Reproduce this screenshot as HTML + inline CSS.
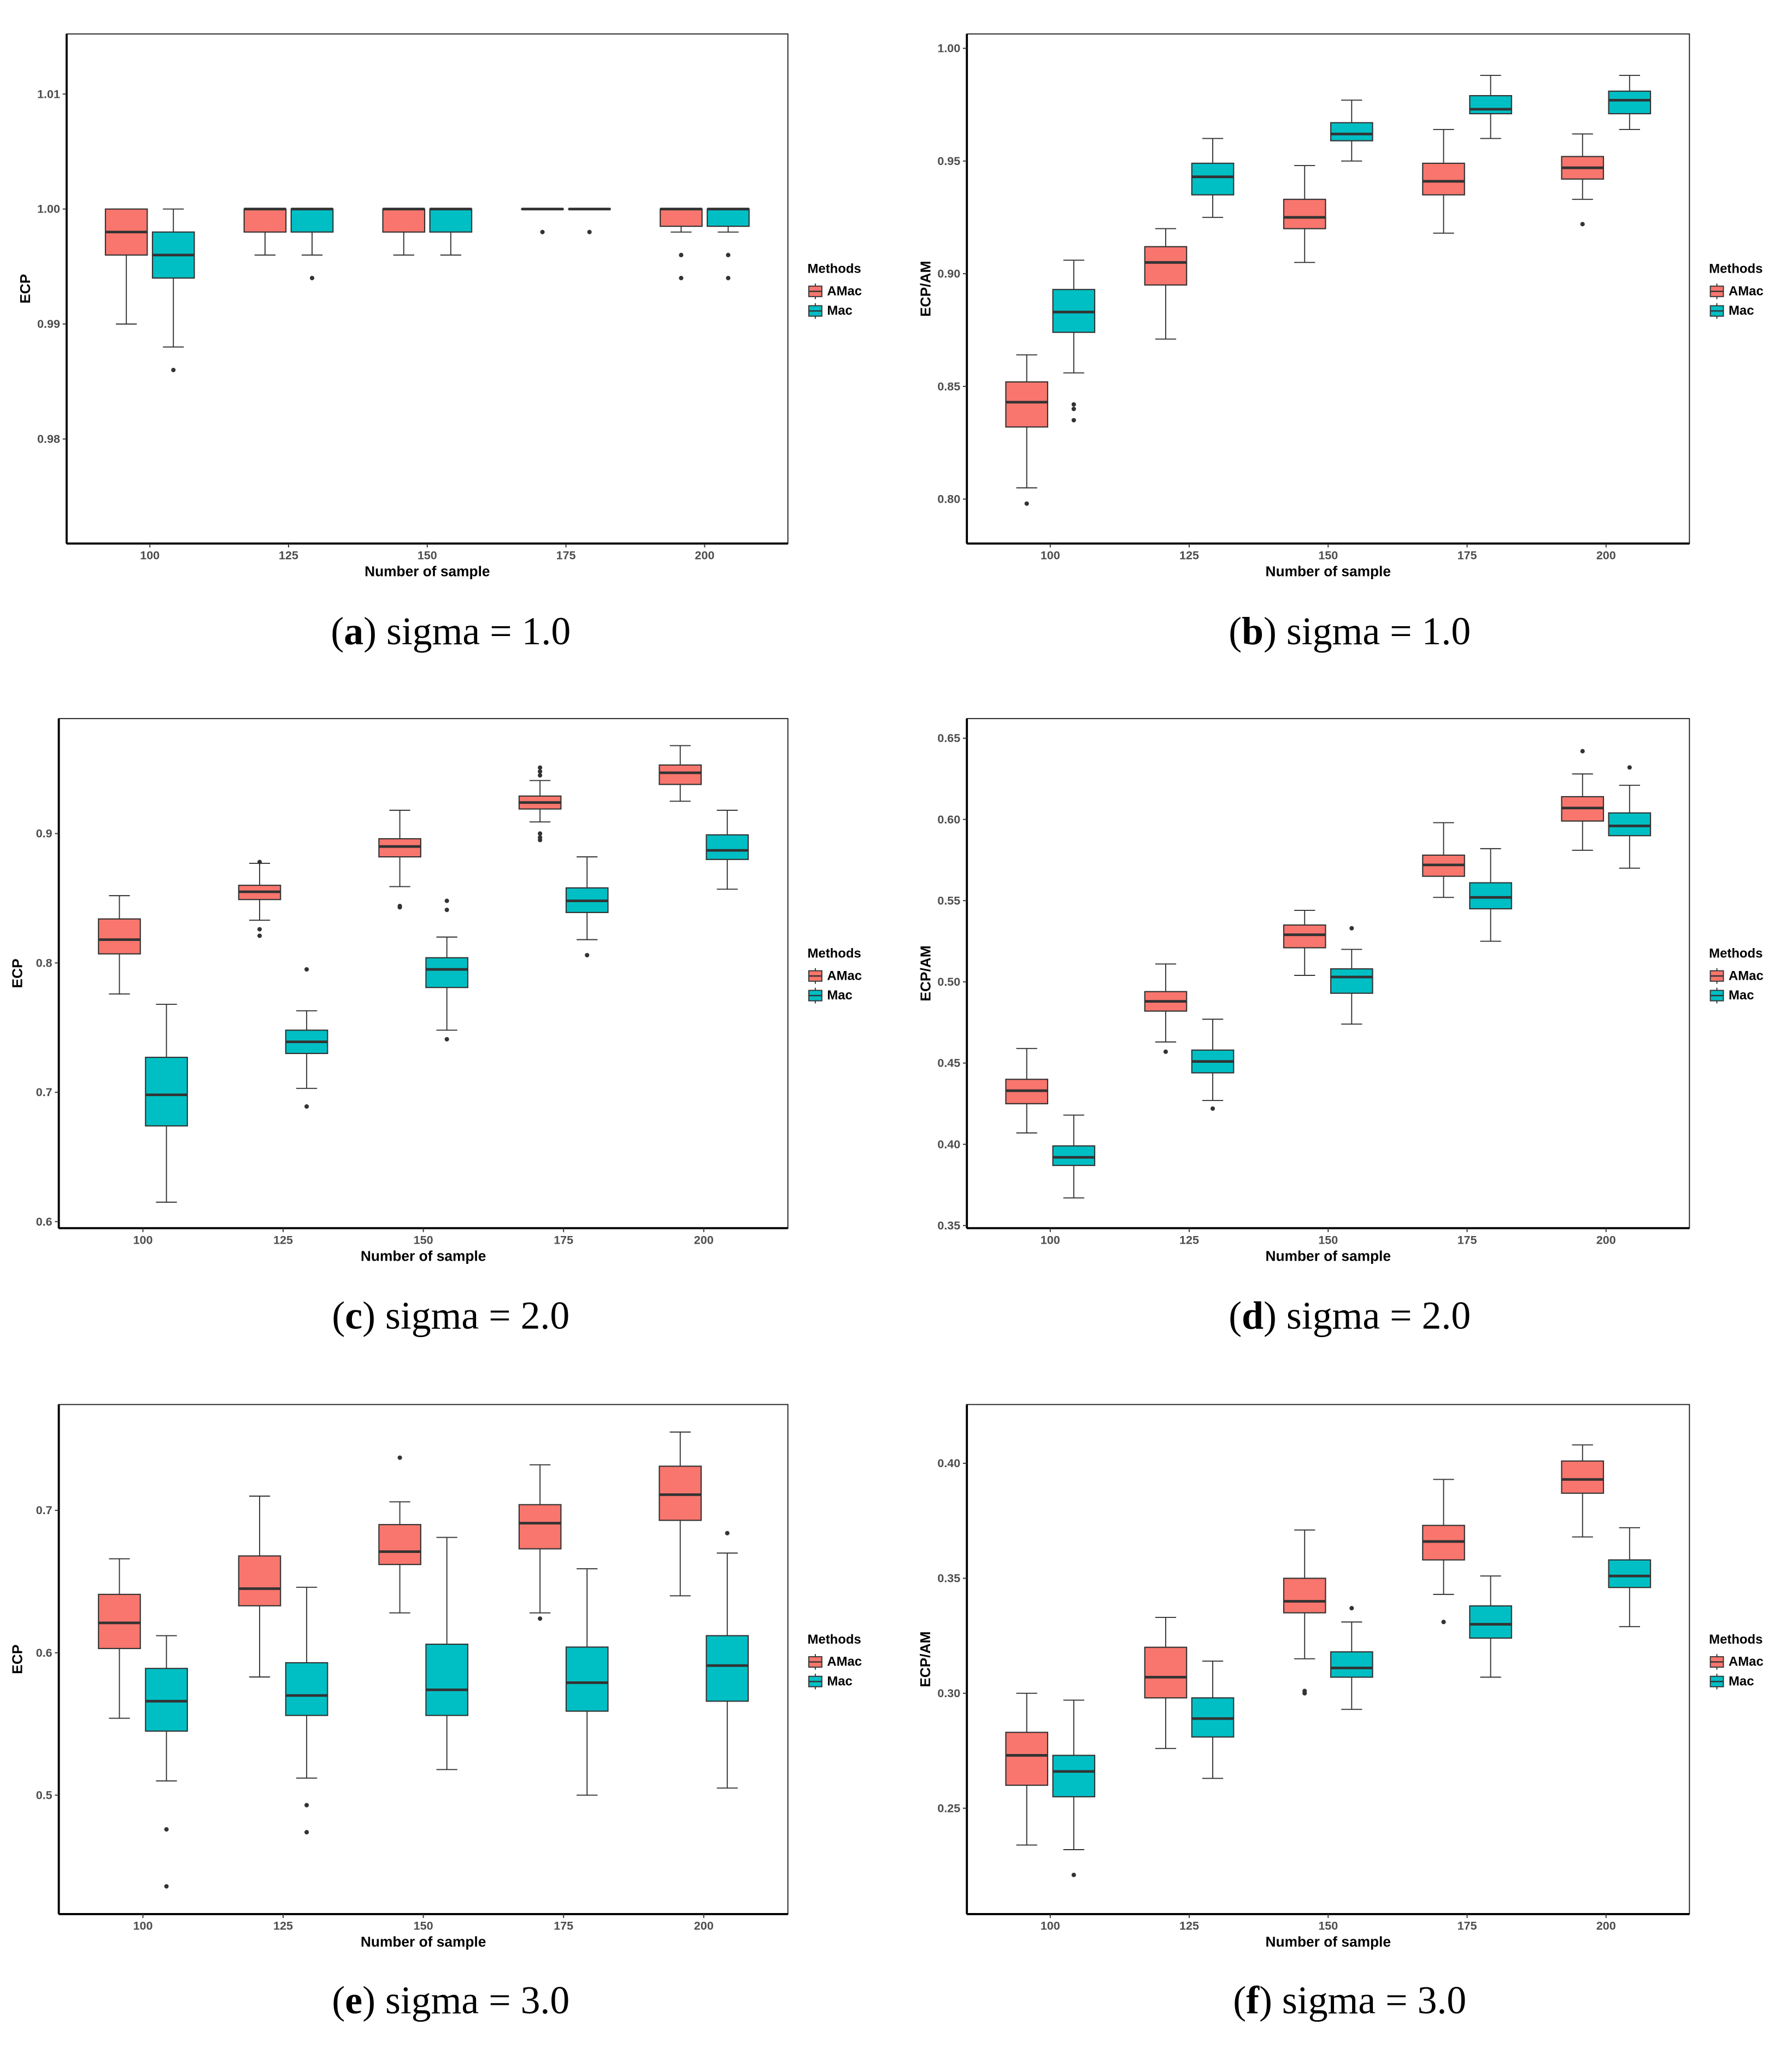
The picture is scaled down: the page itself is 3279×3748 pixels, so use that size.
<!DOCTYPE html>
<html><head><meta charset="utf-8"><style>
html,body{margin:0;padding:0;background:#fff;}
svg{display:block;}
.tick{font-family:"Liberation Sans",sans-serif;font-size:9px;font-weight:bold;fill:#4d4d4d;}
.atitle{font-family:"Liberation Sans",sans-serif;font-size:11px;font-weight:bold;fill:#000;}
.leg{font-family:"Liberation Sans",sans-serif;font-size:10px;font-weight:bold;fill:#000;}
.cap{font-family:"Liberation Serif",serif;font-size:30px;fill:#000;}
</style></head><body>
<svg id="fig" width="3279" height="3748" viewBox="0 0 1371.5 1567.5" preserveAspectRatio="none" xmlns="http://www.w3.org/2000/svg"></svg>
<script>
const categories = [100,125,150,175,200];
// each box: [lowerWhisker, q1, median, q3, upperWhisker]
const aAMac = [[0.990,0.996,0.998,1.000,1.000],[0.996,0.998,1.000,1.000,1.000],[0.996,0.998,1.000,1.000,1.000],[1,1,1,1,1],[0.998,0.9985,1.000,1.000,1.000]];
const aMac  = [[0.988,0.994,0.996,0.998,1.000],[0.996,0.998,1.000,1.000,1.000],[0.996,0.998,1.000,1.000,1.000],[1,1,1,1,1],[0.998,0.9985,1.000,1.000,1.000]];
const aAMacOut = [[],[],[],[0.998],[0.996,0.994]];
const aMacOut  = [[0.986],[0.994],[],[0.998],[0.996,0.994]];
const aTicks = [0.98,0.99,1.00,1.01];

const bAMac = [[0.805,0.832,0.843,0.852,0.864],[0.871,0.895,0.905,0.912,0.920],[0.905,0.920,0.925,0.933,0.948],[0.918,0.935,0.941,0.949,0.964],[0.933,0.942,0.947,0.952,0.962]];
const bMac  = [[0.856,0.874,0.883,0.893,0.906],[0.925,0.935,0.943,0.949,0.960],[0.950,0.959,0.962,0.967,0.977],[0.960,0.971,0.973,0.979,0.988],[0.964,0.971,0.977,0.981,0.988]];
const bAMacOut = [[0.798],[],[],[],[0.922]];
const bMacOut  = [[0.842,0.840,0.835],[],[],[],[]];
const bTicks = [0.80,0.85,0.90,0.95,1.00];

const cAMac = [[0.776,0.807,0.818,0.834,0.852],[0.833,0.849,0.855,0.860,0.877],[0.859,0.882,0.890,0.896,0.918],[0.909,0.919,0.924,0.929,0.941],[0.925,0.938,0.947,0.953,0.968]];
const cMac  = [[0.615,0.674,0.698,0.727,0.768],[0.703,0.730,0.739,0.748,0.763],[0.748,0.781,0.795,0.804,0.820],[0.818,0.839,0.848,0.858,0.882],[0.857,0.880,0.887,0.899,0.918]];
const cAMacOut = [[],[0.878,0.826,0.821],[0.844,0.843],[0.951,0.948,0.945,0.900,0.897,0.895],[]];
const cMacOut  = [[],[0.795,0.689],[0.848,0.841,0.741],[0.806],[]];
const cTicks = [0.6,0.7,0.8,0.9];

const dAMac = [[0.407,0.425,0.433,0.440,0.459],[0.463,0.482,0.488,0.494,0.511],[0.504,0.521,0.529,0.535,0.544],[0.552,0.565,0.572,0.578,0.598],[0.581,0.599,0.607,0.614,0.628]];
const dMac  = [[0.367,0.387,0.392,0.399,0.418],[0.427,0.444,0.451,0.458,0.477],[0.474,0.493,0.503,0.508,0.520],[0.525,0.545,0.552,0.561,0.582],[0.570,0.590,0.596,0.604,0.621]];
const dAMacOut = [[],[0.457],[],[],[0.642]];
const dMacOut  = [[],[0.422],[0.533],[],[0.632]];
const dTicks = [0.35,0.40,0.45,0.50,0.55,0.60,0.65];

const eAMac = [[0.554,0.603,0.621,0.641,0.666],[0.583,0.633,0.645,0.668,0.710],[0.628,0.662,0.671,0.690,0.706],[0.628,0.673,0.691,0.704,0.732],[0.640,0.693,0.711,0.731,0.755]];
const eMac  = [[0.510,0.545,0.566,0.589,0.612],[0.512,0.556,0.570,0.593,0.646],[0.518,0.556,0.574,0.606,0.681],[0.500,0.559,0.579,0.604,0.659],[0.505,0.566,0.591,0.612,0.670]];
const eAMacOut = [[],[],[0.737],[0.624],[]];
const eMacOut  = [[0.476,0.436],[0.493,0.474],[],[],[0.684]];
const eTicks = [0.5,0.6,0.7];

const fAMac = [[0.234,0.260,0.273,0.283,0.300],[0.276,0.298,0.307,0.320,0.333],[0.315,0.335,0.340,0.350,0.371],[0.343,0.358,0.366,0.373,0.393],[0.368,0.387,0.393,0.401,0.408]];
const fMac  = [[0.232,0.255,0.266,0.273,0.297],[0.263,0.281,0.289,0.298,0.314],[0.293,0.307,0.311,0.318,0.331],[0.307,0.324,0.330,0.338,0.351],[0.329,0.346,0.351,0.358,0.372]];
const fAMacOut = [[],[],[0.301,0.300],[0.331],[]];
const fMacOut  = [[0.221],[],[0.337],[],[]];
const fTicks = [0.25,0.30,0.35,0.40];

const panels = [
 {id:'a',x0:51,x1:603,y0:26,y1:416,v0:1.00,p0:160,v1:0.99,p1:248,dec:2,amac:aAMac,mac:aMac,ao:aAMacOut,mo:aMacOut,ticks:aTicks,yl:'ECP',cap:'sigma = 1.0',capY:485,capX:345},
 {id:'b',x0:740,x1:1293,y0:26,y1:416,v0:1.00,p0:37,v1:0.80,p1:382,dec:2,amac:bAMac,mac:bMac,ao:bAMacOut,mo:bMacOut,ticks:bTicks,yl:'ECP/AM',cap:'sigma = 1.0',capY:485,capX:1033},
 {id:'c',x0:45,x1:603,y0:550,y1:940,v0:0.9,p0:638,v1:0.6,p1:935,dec:1,amac:cAMac,mac:cMac,ao:cAMacOut,mo:cMacOut,ticks:cTicks,yl:'ECP',cap:'sigma = 2.0',capY:1009,capX:345},
 {id:'d',x0:740,x1:1293,y0:550,y1:940,v0:0.65,p0:565,v1:0.35,p1:938,dec:2,amac:dAMac,mac:dMac,ao:dAMacOut,mo:dMacOut,ticks:dTicks,yl:'ECP/AM',cap:'sigma = 2.0',capY:1009,capX:1033},
 {id:'e',x0:45,x1:603,y0:1075,y1:1465,v0:0.7,p0:1156,v1:0.5,p1:1374,dec:1,amac:eAMac,mac:eMac,ao:eAMacOut,mo:eMacOut,ticks:eTicks,yl:'ECP',cap:'sigma = 3.0',capY:1533,capX:345},
 {id:'f',x0:740,x1:1293,y0:1075,y1:1465,v0:0.40,p0:1120,v1:0.25,p1:1384,dec:2,amac:fAMac,mac:fMac,ao:fAMacOut,mo:fMacOut,ticks:fTicks,yl:'ECP/AM',cap:'sigma = 3.0',capY:1533,capX:1033}
];
const NS='http://www.w3.org/2000/svg';
const svg=document.getElementById('fig');
function el(tag,attrs,parent){const e=document.createElementNS(NS,tag);for(const k in attrs)e.setAttribute(k,attrs[k]);(parent||svg).appendChild(e);return e;}
const COLS={AMac:'#F8766D',Mac:'#00BFC4'};
panels.forEach(p=>{
  const g=el('g',{});
  
  
  const y=v=>p.p0+(v-p.v0)*(p.p1-p.p0)/(p.v1-p.v0);
  const step=(p.x1-p.x0)/5.2;
  const x=i=>p.x0+step*(i+0.6);
  const r=el('rect',{x:p.x0,y:p.y0,width:p.x1-p.x0,height:p.y1-p.y0,fill:'none',stroke:'#222','stroke-width':0.8},g);
  
  
  const la=el('line',{x1:p.x0,y1:p.y0,x2:p.x0,y2:p.y1,stroke:'#000','stroke-width':1.6},g);
  
  
  const lb=el('line',{x1:p.x0,y1:p.y1,x2:p.x1,y2:p.y1,stroke:'#000','stroke-width':1.6},g);
  
  
  p.ticks.forEach(t=>{
    const yy=y(t);
    el('line',{x1:p.x0-3,x2:p.x0,y1:yy,y2:yy,stroke:'#333','stroke-width':0.8},g);
    const tx=el('text',{x:p.x0-5,y:yy+3,'text-anchor':'end',class:'tick'},g);
    tx.textContent=t.toFixed(p.dec);
    
    
  });
  categories.forEach((c,i)=>{
    el('line',{x1:x(i),x2:x(i),y1:p.y1,y2:p.y1+3,stroke:'#333','stroke-width':0.8},g);
    const tx=el('text',{x:x(i),y:p.y1+12,'text-anchor':'middle',class:'tick'},g);
    tx.textContent=c;
    
    
    [['AMac',p.amac[i],p.ao[i],-18],['Mac',p.mac[i],p.mo[i],18]].forEach(([m,b,outs,off])=>{
      const cx=x(i)+off,w=32;
      const bg=el('g',{},g);
      
      
      el('line',{x1:cx,x2:cx,y1:y(b[0]),y2:y(b[1]),stroke:'#333','stroke-width':0.8},bg);
      el('line',{x1:cx,x2:cx,y1:y(b[3]),y2:y(b[4]),stroke:'#333','stroke-width':0.8},bg);
      el('line',{x1:cx-w/4,x2:cx+w/4,y1:y(b[0]),y2:y(b[0]),stroke:'#333','stroke-width':0.8},bg);
      el('line',{x1:cx-w/4,x2:cx+w/4,y1:y(b[4]),y2:y(b[4]),stroke:'#333','stroke-width':0.8},bg);
      el('rect',{x:cx-w/2,y:y(b[3]),width:w,height:Math.max(0.01,y(b[1])-y(b[3])),fill:COLS[m],stroke:'#333','stroke-width':0.9},bg);
      el('line',{x1:cx-w/2,x2:cx+w/2,y1:y(b[2]),y2:y(b[2]),stroke:'#333','stroke-width':2},bg);
      outs.forEach(o=>{
        const d=el('circle',{cx:cx,cy:y(o),r:1.7,fill:'#333'},bg);
        
        
      });
    });
  });
  const xt=el('text',{x:(p.x0+p.x1)/2,y:p.y1+25,'text-anchor':'middle',class:'atitle'},g);
  xt.textContent='Number of sample';
  
  
  const yc=(p.y0+p.y1)/2, yx=p.x0-28;
  const yt=el('text',{x:yx,y:yc,'text-anchor':'middle',class:'atitle',transform:`rotate(-90 ${yx} ${yc})`},g);
  yt.textContent=p.yl;
  
  
  const lx=p.x1+15, ly=yc;
  const lg=el('g',{},g);
  
  
  const lt=el('text',{x:lx,y:ly-12,class:'leg'},lg);
  lt.textContent='Methods';
  
  
  [['AMac',ly+5],['Mac',ly+20]].forEach(([m,yy])=>{
    const eg=el('g',{},lg);
    
    
    el('line',{x1:lx+6,x2:lx+6,y1:yy-9,y2:yy+3,stroke:'#333','stroke-width':0.8},eg);
    el('rect',{x:lx+1,y:yy-7,width:10,height:8,fill:COLS[m],stroke:'#333','stroke-width':0.8},eg);
    el('line',{x1:lx+1,x2:lx+11,y1:yy-3,y2:yy-3,stroke:'#333','stroke-width':1},eg);
    const t=el('text',{x:lx+15,y:yy,class:'leg'},eg);
    t.textContent=m;
  });
  const cap=el('text',{x:p.capX,y:p.capY+8,'text-anchor':'middle',class:'cap'},g);
  
  
  const t1=el('tspan',{},cap);t1.textContent='(';
  const t2=el('tspan',{'font-weight':'bold'},cap);t2.textContent=p.id;
  const t3=el('tspan',{},cap);t3.textContent=') '+p.cap;
});
</script>
</body></html>
